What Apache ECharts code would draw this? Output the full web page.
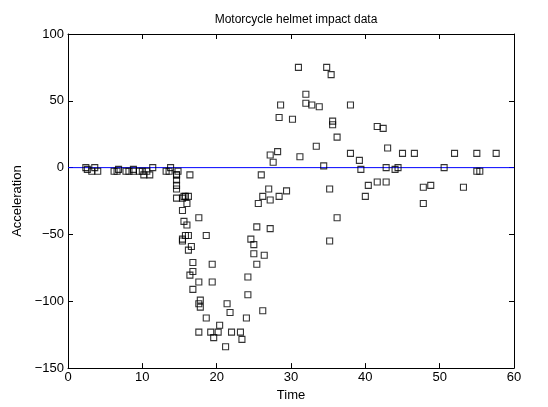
<!DOCTYPE html>
<html>
<head>
<meta charset="utf-8">
<script src="https://cdn.jsdelivr.net/npm/echarts@6/dist/echarts.min.js"></script>
<style>html,body{margin:0;padding:0;background:#fff}#c{width:548px;height:407px}</style>
</head>
<body>
<div id="c"></div>
<script>
// Motorcycle helmet impact: time (ms) after impact and head acceleration (g)
const times = [2.4, 2.6, 3.2, 3.6, 4.0, 6.2, 6.6, 6.8, 7.8, 8.2, 8.8, 8.8, 9.6, 10.0, 10.2, 10.6, 11.0, 11.4, 13.2, 13.6, 13.8, 14.6, 14.6, 14.6, 14.6, 14.6, 14.6, 14.8, 15.4, 15.4, 15.4, 15.4, 15.6, 15.6, 15.8, 15.8, 16.0, 16.0, 16.2, 16.2, 16.2, 16.4, 16.4, 16.6, 16.8, 16.8, 16.8, 17.6, 17.6, 17.6, 17.6, 17.8, 17.8, 18.6, 18.6, 19.2, 19.4, 19.4, 19.6, 20.2, 20.4, 21.2, 21.4, 21.8, 22.0, 23.2, 23.4, 24.0, 24.2, 24.2, 24.6, 25.0, 25.0, 25.4, 25.4, 25.6, 26.0, 26.2, 26.2, 26.4, 27.0, 27.2, 27.2, 27.2, 27.6, 28.2, 28.4, 28.4, 28.6, 29.4, 30.2, 31.0, 31.2, 32.0, 32.0, 32.8, 33.4, 33.8, 34.4, 34.8, 35.2, 35.2, 35.4, 35.6, 35.6, 36.2, 36.2, 38.0, 38.0, 39.2, 39.4, 40.0, 40.4, 41.6, 41.6, 42.4, 42.8, 42.8, 43.0, 44.0, 44.4, 45.0, 46.6, 47.8, 47.8, 48.8, 50.6, 52.0, 53.2, 55.0, 55.0, 55.4, 57.6];
const accel = [0.0, -1.3, -2.7, 0.0, -2.7, -2.7, -2.7, -1.3, -2.7, -2.7, -1.3, -2.7, -2.7, -2.7, -5.4, -2.7, -5.4, 0.0, -2.7, -2.7, 0.0, -13.3, -5.4, -5.4, -9.3, -16.0, -22.8, -2.7, -22.8, -32.1, -53.5, -54.9, -40.2, -21.5, -21.5, -50.8, -42.9, -26.8, -21.5, -50.8, -61.7, -5.4, -80.4, -59.0, -71.0, -91.1, -77.7, -37.5, -85.6, -123.1, -101.9, -99.1, -104.4, -112.5, -50.8, -123.1, -85.6, -72.3, -127.2, -123.1, -117.9, -134.0, -101.9, -108.4, -123.1, -123.1, -128.5, -112.5, -95.1, -81.8, -53.5, -64.4, -57.6, -72.3, -44.3, -26.8, -5.4, -107.1, -21.5, -65.6, -16.0, -45.6, -24.2, 9.5, 4.0, 12.0, -21.5, 37.5, 46.9, -17.4, 36.2, 75.0, 8.1, 54.9, 48.2, 46.9, 16.0, 45.6, 1.3, 75.0, -16.0, -54.9, 69.6, 34.8, 32.1, -37.5, 22.8, 46.9, 10.7, 5.4, -1.3, -21.5, -13.3, 30.8, -10.7, 29.4, 0.0, -10.7, 14.7, -1.3, 0.0, 10.7, 10.7, -26.8, -14.7, -13.3, 0.0, 10.7, -14.7, -2.7, 10.7, -2.7, 10.7];
// Zero reference line
const zeroLineX = [0, 60];
const zeroLineY = [0, 0];

const FONT = '"Liberation Sans", Arial, sans-serif';
const minus = v => String(v).replace('-', '\u2212');

const points = times.map((t, i) => [t, accel[i]]);
const zeroLine = zeroLineX.map((x, i) => [x, zeroLineY[i]]);

const axisCommon = {
  axisLine: { show: true, onZero: false, lineStyle: { color: '#000', width: 1 } },
  axisTick: { show: true, inside: true, length: 5, lineStyle: { color: '#000' } },
  splitLine: { show: false },
  axisLabel: { color: '#000', fontFamily: FONT, fontSize: 13, formatter: minus }
};

const chart = echarts.init(document.getElementById('c'), null, { renderer: 'canvas' });
chart.setOption({
  animation: false,
  backgroundColor: '#fff',
  title: {
    text: 'Motorcycle helmet impact data',
    left: 291, top: 9, textAlign: 'center',
    textStyle: { fontFamily: FONT, fontSize: 12, fontWeight: 'normal', color: '#000' }
  },
  grid: { left: 68, right: 34, top: 34, bottom: 33 },
  xAxis: [
    Object.assign({}, axisCommon, {
      type: 'value', min: 0, max: 60, interval: 10, position: 'bottom',
      name: 'Time', nameLocation: 'middle', nameGap: 17,
      nameTextStyle: { fontFamily: FONT, fontSize: 13, color: '#000' },
      axisLabel: Object.assign({}, axisCommon.axisLabel, { margin: 3 })
    }),
    Object.assign({}, axisCommon, {
      type: 'value', min: 0, max: 60, interval: 10, position: 'top',
      axisLabel: { show: false }
    })
  ],
  yAxis: [
    Object.assign({}, axisCommon, {
      type: 'value', min: -150, max: 100, interval: 50, position: 'left',
      name: 'Acceleration', nameLocation: 'middle', nameGap: 36, nameRotate: 90,
      nameTextStyle: { fontFamily: FONT, fontSize: 13, color: '#000' },
      axisLabel: Object.assign({}, axisCommon.axisLabel, { margin: 4 })
    }),
    Object.assign({}, axisCommon, {
      type: 'value', min: -150, max: 100, interval: 50, position: 'right',
      axisLabel: { show: false }
    })
  ],
  series: [
    {
      type: 'line', data: zeroLine, symbol: 'none', silent: true,
      lineStyle: { color: '#0000ff', width: 1 }, z: 1
    },
    {
      type: 'scatter', data: points, symbol: 'rect', symbolSize: 6,
      itemStyle: { color: 'rgba(255,255,255,0)', borderColor: '#000', borderWidth: 1.1 },
      z: 2
    }
  ]
});
</script>
</body>
</html>
